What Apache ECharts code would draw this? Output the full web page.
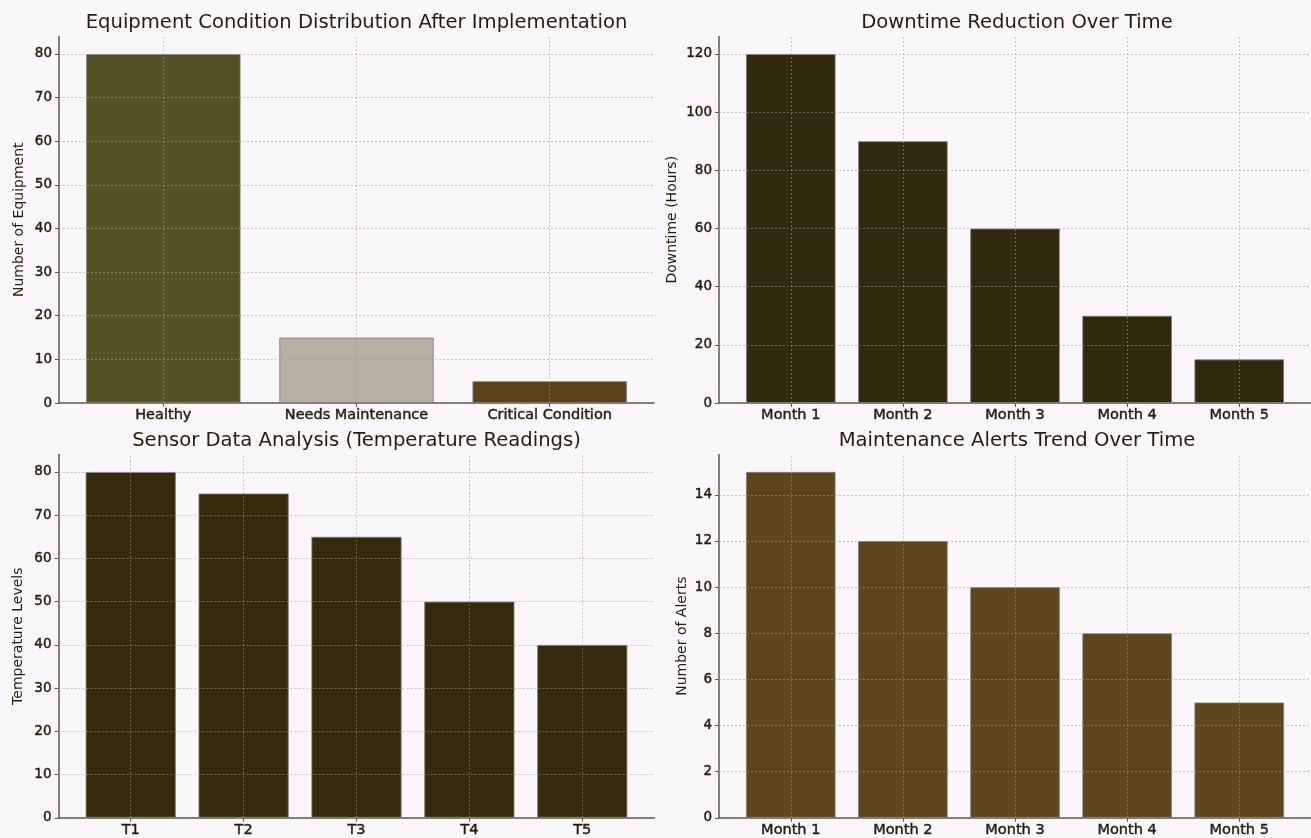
<!DOCTYPE html>
<html>
<head>
<meta charset="utf-8">
<script src="https://cdn.jsdelivr.net/npm/echarts@6/dist/echarts.min.js"></script>
<style>
  html, body { margin: 0; padding: 0; background: #f9f7f9; }
  #chart { width: 1311px; height: 838px; }
</style>
</head>
<body>
<div id="chart"></div>
<script>
// Categories and values for each panel
const conditionCats = ['Healthy', 'Needs Maintenance', 'Critical Condition'];
const conditionCounts = [80, 15, 5];
const conditionColors = ['#545224', '#b8aea4', '#5c421a'];

const months = ['Month 1', 'Month 2', 'Month 3', 'Month 4', 'Month 5'];
const downtimeHours = [120, 90, 60, 30, 15];

const sensors = ['T1', 'T2', 'T3', 'T4', 'T5'];
const temperatures = [80, 75, 65, 50, 40];

const alertCounts = [15, 12, 10, 8, 5];

// Tick labels on the value axes
const equipTicks = [0, 10, 20, 30, 40, 50, 60, 70, 80];
const downtimeTicks = [0, 20, 40, 60, 80, 100, 120];
const tempTicks = [0, 10, 20, 30, 40, 50, 60, 70, 80];
const alertTicks = [0, 2, 4, 6, 8, 10, 12, 14];

const FONT = 'DejaVu Sans';
const TEXT = '#231f0d';
const AXIS = '#5d584c';
const GRIDLINE = 'rgba(170,150,162,0.55)';

const tickText = {
  fontFamily: FONT, fontSize: 13.5, color: TEXT,
  textBorderColor: TEXT, textBorderWidth: 0.45
};

const panels = [
  { title: 'Equipment Condition Distribution After Implementation', cats: conditionCats, values: conditionCounts,
    colors: conditionColors, ticks: equipTicks, yMax: 84, yName: 'Number of Equipment', nameGap: 33,
    grid: { left: 59, top: 36.5, width: 595, height: 366.5 } },
  { title: 'Downtime Reduction Over Time', cats: months, values: downtimeHours,
    colors: ['#31290f'], ticks: downtimeTicks, yMax: 126, yName: 'Downtime (Hours)', nameGap: 40,
    grid: { left: 719, top: 36.5, width: 596, height: 366.5 } },
  { title: 'Sensor Data Analysis (Temperature Readings)', cats: sensors, values: temperatures,
    colors: ['#362a0c'], ticks: tempTicks, yMax: 84, yName: 'Temperature Levels', nameGap: 33,
    grid: { left: 58.5, top: 454.6, width: 596, height: 364.4 } },
  { title: 'Maintenance Alerts Trend Over Time', cats: months, values: alertCounts,
    colors: ['#5c461c'], ticks: alertTicks, yMax: 15.75, yName: 'Number of Alerts', nameGap: 30,
    grid: { left: 719, top: 454.5, width: 596, height: 364.5 } }
];

const option = {
  backgroundColor: '#f9f7f9',
  animation: false,
  title: [], grid: [], xAxis: [], yAxis: [], series: []
};

panels.forEach((p, k) => {
  const n = p.cats.length;
  const pad = 0.4 + 0.05 * (n - 1 + 0.8);
  const idx = p.cats.map((_, i) => i);
  option.grid.push(p.grid);
  option.title.push({
    text: p.title,
    left: p.grid.left + p.grid.width / 2,
    textAlign: 'center',
    top: p.grid.top - 24,
    padding: 0,
    textStyle: { fontFamily: FONT, fontSize: 19.6, fontWeight: 'normal', color: TEXT }
  });
  option.xAxis.push({
    type: 'value', gridIndex: k, min: -pad, max: n - 1 + pad,
    axisLine: { show: true, onZero: false, lineStyle: { color: AXIS, width: 1.5 } },
    axisTick: { show: true, length: 4, customValues: idx, lineStyle: { color: AXIS } },
    splitLine: { show: false },
    axisLabel: Object.assign({}, tickText, {
      customValues: idx, margin: 5, fontSize: 14.5,
      formatter: v => p.cats[Math.round(v)]
    })
  });
  option.yAxis.push({
    type: 'value', gridIndex: k, min: 0, max: p.yMax,
    name: p.yName, nameLocation: 'middle', nameGap: p.nameGap,
    nameTextStyle: { fontFamily: FONT, fontSize: 14, color: TEXT },
    axisLine: { show: true, onZero: false, lineStyle: { color: AXIS, width: 1.5 } },
    axisTick: { show: true, length: 4, customValues: p.ticks, lineStyle: { color: AXIS } },
    splitLine: { show: false },
    axisLabel: Object.assign({ customValues: p.ticks, margin: 7 }, tickText)
  });
  option.series.push({
    type: 'bar', xAxisIndex: k, yAxisIndex: k,
    barWidth: '80%',
    data: p.values.map((v, i) => ({
      value: [i, v],
      itemStyle: { color: p.colors[i % p.colors.length] }
    })),
    itemStyle: { borderColor: 'rgba(130,124,114,0.8)', borderWidth: 1 },
    markLine: {
      silent: true, symbol: 'none', label: { show: false },
      lineStyle: { color: GRIDLINE, type: [2, 2], width: 1 },
      data: idx.map(i => ({ xAxis: i })).concat(p.ticks.slice(1).map(t => ({ yAxis: t })))
    }
  });
});

const chart = echarts.init(document.getElementById('chart'));
chart.setOption(option);
</script>
</body>
</html>
